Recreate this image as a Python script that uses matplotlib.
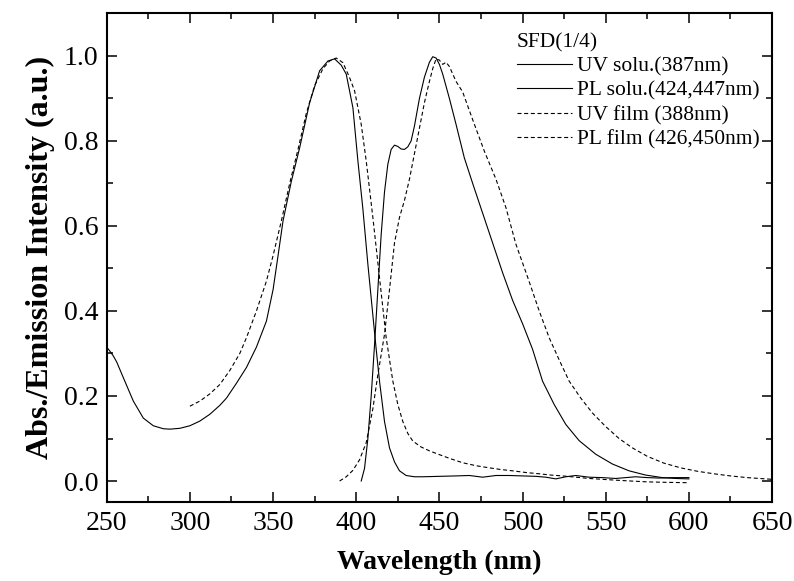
import matplotlib
matplotlib.use("Agg")
import matplotlib.pyplot as plt
from matplotlib.ticker import MultipleLocator

# absorption in solution (solid)
uv_solu_x = [250, 252, 254, 256, 260, 266, 272, 278, 284, 288, 294, 300, 306, 312, 318,
             322, 328, 334, 340, 346, 350, 353, 356, 361, 366, 372, 378, 383, 387, 391,
             394, 398, 401, 404, 407, 410, 412, 414, 417, 420, 423, 426, 430, 435, 440,
             450, 460, 468, 476, 484, 492, 500, 508, 514, 520, 526, 532, 540, 548, 556,
             562, 568, 575, 582, 590, 600]
uv_solu_y = [0.315, 0.305, 0.294, 0.28, 0.243, 0.188, 0.148, 0.13, 0.123, 0.122, 0.124,
             0.13, 0.141, 0.157, 0.178, 0.195, 0.23, 0.267, 0.315, 0.376, 0.45, 0.53,
             0.612, 0.705, 0.784, 0.89, 0.965, 0.988, 0.993, 0.978, 0.957, 0.878, 0.753,
             0.64, 0.51, 0.39, 0.31, 0.235, 0.14, 0.078, 0.045, 0.024, 0.013, 0.01, 0.01,
             0.011, 0.012, 0.013, 0.009, 0.013, 0.013, 0.012, 0.011, 0.009, 0.005, 0.01,
             0.013, 0.009, 0.008, 0.006, 0.008, 0.01, 0.008, 0.007, 0.008, 0.008]

# emission in solution (solid)
pl_solu_x = [403, 405, 407, 409, 411, 413, 415, 417, 419, 421, 423, 425, 427, 429, 431,
             433, 435, 438, 441, 444, 446, 448, 450, 452, 456, 460, 465, 470, 476, 482,
             488, 494, 500, 506, 512, 519, 526, 534, 544, 554, 564, 574, 584, 592, 600]
pl_solu_y = [0.0, 0.03, 0.1, 0.2, 0.32, 0.45, 0.58, 0.68, 0.745, 0.78, 0.79, 0.787,
             0.781, 0.78, 0.786, 0.8, 0.835, 0.9, 0.95, 0.985, 0.998, 0.995, 0.98, 0.957,
             0.9, 0.839, 0.76, 0.7, 0.63, 0.56, 0.49, 0.425, 0.37, 0.31, 0.235, 0.18,
             0.133, 0.095, 0.063, 0.04, 0.024, 0.014, 0.008, 0.006, 0.005]

# absorption of film (dashed)
uv_film_x = [300, 306, 312, 318, 324, 330, 334, 340, 346, 350, 355, 360, 365, 370, 375,
             380, 384, 388, 392, 396, 399, 403, 406, 410, 414, 418, 422, 425, 428, 431,
             434, 439, 444, 450, 457, 464, 472, 480, 487, 494, 502, 510, 517, 524, 532,
             540, 548, 556, 565, 575, 585, 600]
uv_film_y = [0.176, 0.188, 0.205, 0.227, 0.26, 0.3, 0.337, 0.4, 0.47, 0.53, 0.612, 0.7,
             0.78, 0.865, 0.93, 0.97, 0.988, 0.995, 0.984, 0.949, 0.918, 0.839, 0.753,
             0.62, 0.478, 0.337, 0.235, 0.18, 0.14, 0.112, 0.094, 0.08, 0.071, 0.062,
             0.052, 0.043, 0.036, 0.031, 0.027, 0.024, 0.02, 0.017, 0.014, 0.012, 0.009,
             0.006, 0.004, 0.002, 0.0, -0.002, -0.003, -0.004]

# emission of film (dashed)
pl_film_x = [390, 394, 398, 402, 406, 410, 413, 417, 420, 423, 426, 429, 432, 435, 438,
             441, 444, 446, 448, 450, 452, 454, 456, 460, 464, 470, 477, 484, 490, 496,
             503, 510, 516, 522, 528, 535, 542, 550, 558, 566, 575, 585, 595, 605, 615,
             625, 635, 650]
pl_film_y = [0.0, 0.01, 0.025, 0.05, 0.09, 0.17, 0.25, 0.345, 0.45, 0.56, 0.62, 0.66,
             0.71, 0.77, 0.83, 0.89, 0.94, 0.97, 0.993, 0.99, 0.98, 0.985, 0.975, 0.94,
             0.915, 0.85, 0.776, 0.71, 0.643, 0.557, 0.48, 0.4, 0.337, 0.285, 0.235,
             0.195, 0.16, 0.128, 0.1, 0.078, 0.058, 0.042, 0.031, 0.023, 0.017, 0.012,
             0.008, 0.004]

labels = ["UV solu.(387nm)", "PL solu.(424,447nm)", "UV film (388nm)", "PL film (426,450nm)"]

plt.rcParams['font.family'] = ['Liberation Serif', 'DejaVu Serif']

fig = plt.figure(figsize=(7.94, 5.81), dpi=100)
ax = fig.add_axes([0.1344, 0.1355, 0.838, 0.8415])

dash = (0, (3.6, 2.4))
ax.plot(uv_solu_x, uv_solu_y, color='black', lw=0.8, label=labels[0])
ax.plot(pl_solu_x, pl_solu_y, color='black', lw=0.8, label=labels[1])
ax.plot(uv_film_x, uv_film_y, color='black', lw=0.8, ls=dash, label=labels[2])
ax.plot(pl_film_x, pl_film_y, color='black', lw=0.8, ls=dash, label=labels[3])

ax.set_xlim(250, 650)
ax.set_ylim(-0.05, 1.1)
ax.xaxis.set_major_locator(MultipleLocator(50))
ax.xaxis.set_minor_locator(MultipleLocator(25))
ax.yaxis.set_major_locator(MultipleLocator(0.2))
ax.yaxis.set_minor_locator(MultipleLocator(0.1))
ax.tick_params(which='both', direction='in', top=True, right=True, width=1.1)
ax.tick_params(which='major', length=7.5, labelsize=20, pad=6)
ax.tick_params(which='minor', length=4)
for s in ax.spines.values():
    s.set_linewidth(1.5)

ax.set_xlabel("Wavelength (nm)", fontsize=20, fontweight='bold', labelpad=10)
ax.set_ylabel("Abs./Emission Intensity (a.u.)", fontsize=23, fontweight='bold', labelpad=6)

leg = ax.legend(loc='upper left', bbox_to_anchor=(0.6, 0.982), frameon=False,
                title="SFD(1/4)", fontsize=15.5, title_fontsize=15.5, handlelength=2.55,
                handletextpad=0.25, labelspacing=0.2, borderpad=0, alignment='left')

fig.savefig("out.png", dpi=100)
